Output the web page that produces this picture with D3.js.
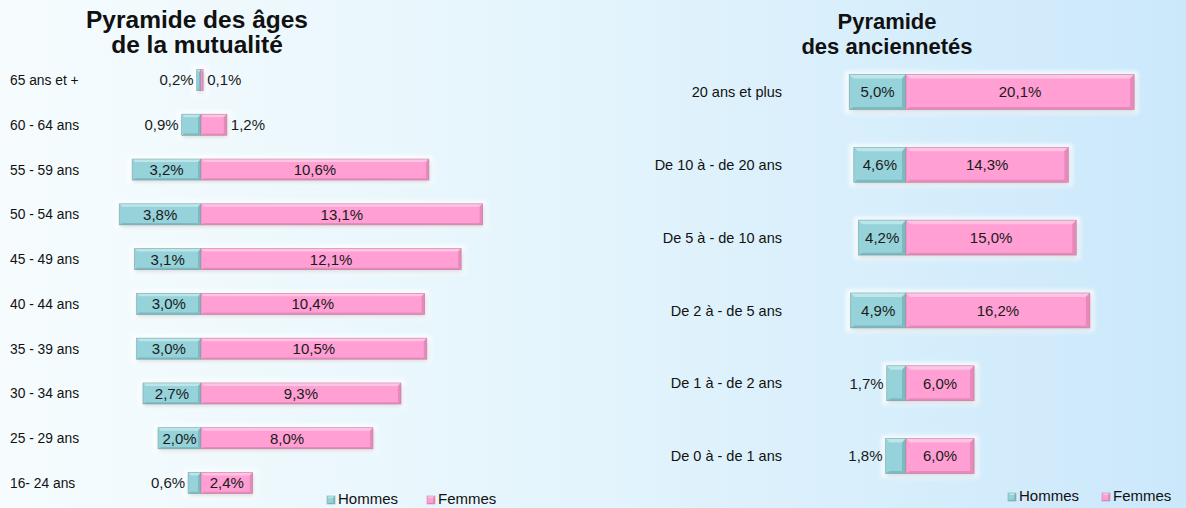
<!DOCTYPE html>
<html>
<head>
<meta charset="utf-8">
<script src="https://cdn.jsdelivr.net/npm/d3@7"></script>
<style>
  html, body { margin: 0; padding: 0; }
  body { width: 1186px; height: 508px; overflow: hidden; }
  svg { display: block; font-family: Arial, "Liberation Sans", sans-serif; }
</style>
</head>
<body>
<div id="chart"></div>
<script>
// Pyramide des âges (left) and Pyramide des anciennetés (right)
const ageCategories = ["65 ans et +", "60 - 64 ans", "55 - 59 ans", "50 - 54 ans", "45 - 49 ans",
  "40 - 44 ans", "35 - 39 ans", "30 - 34 ans", "25 - 29 ans", "16- 24 ans"];
const ageHommes = [0.2, 0.9, 3.2, 3.8, 3.1, 3.0, 3.0, 2.7, 2.0, 0.6];
const ageFemmes = [0.1, 1.2, 10.6, 13.1, 12.1, 10.4, 10.5, 9.3, 8.0, 2.4];

const ancCategories = ["20 ans et plus", "De 10 à - de 20 ans", "De 5 à - de 10 ans",
  "De 2 à - de 5 ans", "De 1 à - de 2 ans", "De 0 à - de 1 ans"];
const ancHommes = [5.0, 4.6, 4.2, 4.9, 1.7, 1.8];
const ancFemmes = [20.1, 14.3, 15.0, 16.2, 6.0, 6.0];

const seriesNames = ["Hommes", "Femmes"];

const W = 1186, H = 508;
const colors = {
  Hommes: { base: "#95d2d9", light: "#bde6eb", dark: "#7fb9c0", edge: "#6a9ea5" },
  Femmes: { base: "#ff9fd3", light: "#ffc3e3", dark: "#e58bbb", edge: "#c0769d" }
};
const fmt = v => d3.format(".1f")(v).replace(".", ",") + "%";

const svg = d3.select("#chart").append("svg")
  .attr("width", W).attr("height", H);

const defs = svg.append("defs");
const bg = defs.append("linearGradient").attr("id", "bg")
  .attr("x1", "0%").attr("x2", "100%").attr("y1", "0%").attr("y2", "0%");
bg.append("stop").attr("offset", "0%").attr("stop-color", "#f6fcfe");
bg.append("stop").attr("offset", "50%").attr("stop-color", "#e3f4fc");
bg.append("stop").attr("offset", "100%").attr("stop-color", "#cbe8fb");
defs.append("filter").attr("id", "glow")
  .attr("x", "-20%").attr("y", "-40%").attr("width", "140%").attr("height", "180%")
  .append("feGaussianBlur").attr("stdDeviation", 2);

svg.append("rect").attr("width", W).attr("height", H).attr("fill", "url(#bg)");

// draws one bevelled segment
function bevelRect(g, x0, x1, y0, y1, c, b) {
  const w = x1 - x0;
  const bb = Math.min(b, w / 2);
  g.append("rect").attr("x", x0).attr("y", y0).attr("width", w).attr("height", y1 - y0)
    .attr("fill", c.base);
  const poly = pts => pts.map(p => p.join(",")).join(" ");
  g.append("polygon").attr("fill", c.light)
    .attr("points", poly([[x0, y0], [x1, y0], [x1 - bb, y0 + b], [x0 + bb, y0 + b]]));
  g.append("polygon").attr("fill", c.dark)
    .attr("points", poly([[x0, y1], [x1, y1], [x1 - bb, y1 - b * 0.6], [x0 + bb, y1 - b * 0.6]]));
  g.append("polygon").attr("fill", c.dark)
    .attr("points", poly([[x1, y0], [x1, y1], [x1 - bb, y1 - b * 0.6], [x1 - bb, y0 + b]]));
  g.append("rect").attr("x", x0).attr("y", y0).attr("width", w).attr("height", y1 - y0)
    .attr("fill", "none").attr("stroke", c.edge).attr("stroke-width", 0.7).attr("opacity", 0.7);
}

function pyramid(opts) {
  const { cats, hommes, femmes, x, y, bevel, labelX, labelAnchor, catFont, valFont } = opts;
  const g = svg.append("g");
  const rows = cats.map((c, i) => ({ cat: c, h: hommes[i], f: femmes[i] }));

  rows.forEach(d => {
    const y0 = y(d.cat), y1 = y0 + y.bandwidth();
    const xl = x(-d.h), xc = x(0), xr = x(d.f);
    // white glow behind the bar
    g.append("rect").attr("x", xl - 4).attr("y", y0 - 3)
      .attr("width", xr - xl + 8).attr("height", y1 - y0 + 7)
      .attr("fill", "#ffffff").attr("opacity", 0.9).attr("filter", "url(#glow)");
    // drop shadow
    g.append("rect").attr("x", xl + 1).attr("y", y0 + 2)
      .attr("width", xr - xl).attr("height", y1 - y0)
      .attr("fill", "#7a8a90").attr("opacity", 0.3).attr("filter", "url(#glow)");
    bevelRect(g, xl, xc, y0, y1, colors.Hommes, bevel);
    bevelRect(g, xc, xr, y0, y1, colors.Femmes, bevel);

    const yc = (y0 + y1) / 2 + valFont * 0.36;
    // Hommes value
    const th = g.append("text").attr("font-size", valFont).attr("fill", "#1a1a1a")
      .attr("y", yc).text(fmt(d.h));
    const tw = th.node().getComputedTextLength();
    if (xc - xl >= tw + 2) th.attr("x", (xl + xc) / 2).attr("text-anchor", "middle");
    else th.attr("x", xl - 3).attr("text-anchor", "end");
    // Femmes value
    const tf = g.append("text").attr("font-size", valFont).attr("fill", "#1a1a1a")
      .attr("y", yc).text(fmt(d.f));
    const tw2 = tf.node().getComputedTextLength();
    if (xr - xc >= tw2 + 2) tf.attr("x", (xc + xr) / 2).attr("text-anchor", "middle");
    else tf.attr("x", xr + 4).attr("text-anchor", "start");

    // category label
    g.append("text").attr("x", labelX).attr("y", (y0 + y1) / 2 + catFont * 0.36)
      .attr("text-anchor", labelAnchor).attr("font-size", catFont).attr("fill", "#111")
      .text(d.cat);
  });
}

function title(lines, cx, y0, size) {
  svg.append("text").attr("text-anchor", "middle").attr("font-weight", "bold")
    .attr("font-size", size).attr("fill", "#111")
    .selectAll("tspan").data(lines).join("tspan")
    .attr("x", cx).attr("y", (d, i) => y0 + i * 25).text(d => d);
}

function legend(x0, y0, gap) {
  const lg = svg.append("g").attr("transform", `translate(${x0},${y0})`);
  seriesNames.forEach((s, i) => {
    const row = lg.append("g").attr("transform", `translate(${i * gap},0)`);
    bevelRect(row, 0, 8, -8, 0, colors[s], 2);
    row.append("text").attr("x", 11).attr("y", 0).attr("font-size", 15)
      .attr("fill", "#111").text(s);
  });
}

// ---- left chart
const xAge = d3.scaleLinear().domain([-4, 14]).range([201 - 4 * 21.5, 201 + 14 * 21.5]);
const yAge = d3.scaleBand().domain(ageCategories).range([57.6, 505.4])
  .paddingInner(0.53).paddingOuter(0.265);
pyramid({ cats: ageCategories, hommes: ageHommes, femmes: ageFemmes, x: xAge, y: yAge,
  bevel: 3, labelX: 10, labelAnchor: "start", catFont: 13.8, valFont: 15 });
title(["Pyramide des âges", "de la mutualité"], 197, 28, 24.5);
legend(327, 504, 100);

// ---- right chart
const xAnc = d3.scaleLinear().domain([-6, 22]).range([906 - 6 * 11.35, 906 + 22 * 11.35]);
const yAnc = d3.scaleBand().domain(ancCategories).range([55.6, 492.4])
  .paddingInner(0.52).paddingOuter(0.26);
pyramid({ cats: ancCategories, hommes: ancHommes, femmes: ancFemmes, x: xAnc, y: yAnc,
  bevel: 4, labelX: 782, labelAnchor: "end", catFont: 14.5, valFont: 15 });
title(["Pyramide", "des anciennetés"], 887, 29, 22);
legend(1008, 501, 94);
</script>
</body>
</html>
